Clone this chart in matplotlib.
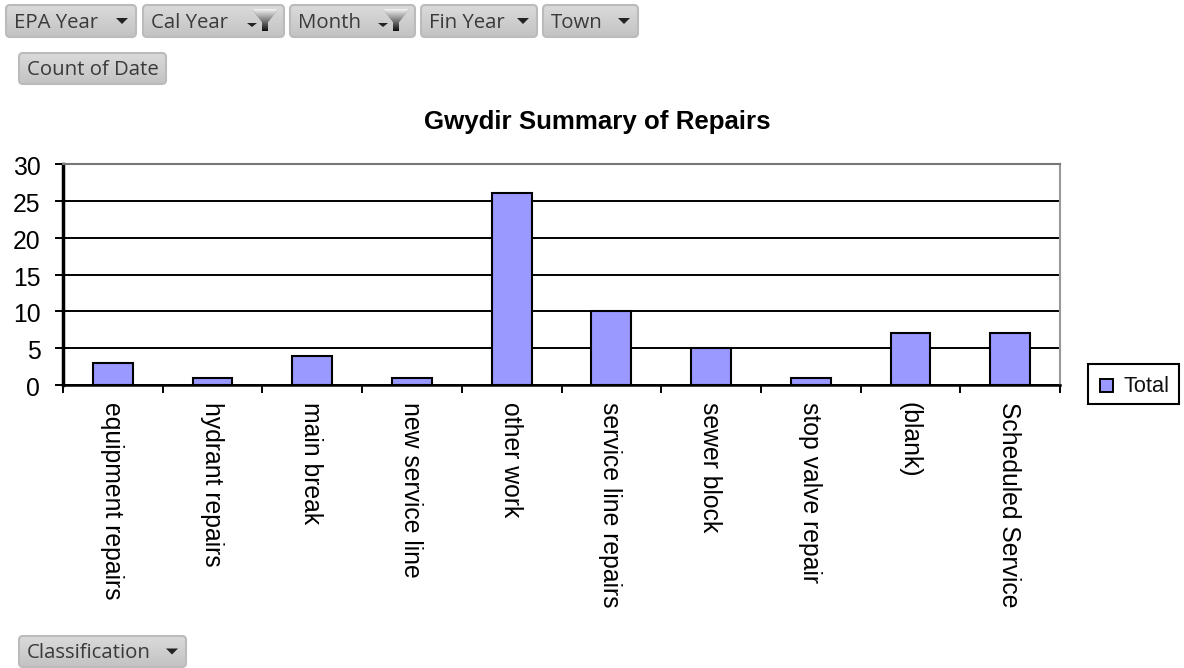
import matplotlib
matplotlib.use('Agg')
import matplotlib.pyplot as plt
import numpy as np
from matplotlib.patches import FancyBboxPatch, Polygon, Rectangle
from matplotlib.transforms import ScaledTranslation

categories = ['equipment repairs', 'hydrant repairs', 'main break', 'new service line',
              'other work', 'service line repairs', 'sewer block', 'stop valve repair',
              '(blank)', 'Scheduled Service']
values = [3, 1, 4, 1, 26, 10, 5, 1, 7, 7]
y_ticks = [0, 5, 10, 15, 20, 25, 30]
title = 'Gwydir Summary of Repairs'
series_name = 'Total'
# label, left, right, top, bottom, kind
buttons = [('EPA Year', 5, 137, 4, 38, 'drop'), ('Cal Year', 142, 285, 4, 38, 'filter'),
           ('Month', 289, 416, 4, 38, 'filter'), ('Fin Year', 420, 538, 4, 38, 'drop'),
           ('Town', 542, 639, 4, 38, 'drop'), ('Count of Date', 18, 167, 52, 85, None),
           ('Classification', 18, 187, 635, 668, 'drop')]

W, H = 1184, 668
plt.rcParams['font.family'] = ['Liberation Sans', 'DejaVu Sans']
fig = plt.figure(figsize=(W / 100, H / 100), dpi=100, facecolor='white')

L, R, T, B = 63, 1060, 164, 385
ax = fig.add_axes([L / W, 1 - B / H, (R - L) / W, (B - T) / H])
xs = range(len(categories))
ax.bar(xs, values, width=0.4, color='#9999FF', edgecolor='black', linewidth=1.5, zorder=3)
ax.set_xlim(-0.5, len(categories) - 0.5)
ax.set_ylim(0, 30)
ax.set_yticks(y_ticks)
ax.set_xticks([x - 0.5 for x in xs] + [len(categories) - 0.5])
ax.set_xticklabels([])
ax.tick_params(axis='y', labelsize=17.8, length=5.8, width=1.4, pad=10.5, colors='black')
ax.tick_params(axis='x', length=5.8, width=1.4)
ax.yaxis.grid(True, color='black', linewidth=1.4, zorder=1)
ax.set_axisbelow(True)
shift = ScaledTranslation(0, -1.5 / 100, fig.dpi_scale_trans)
for lab in ax.get_yticklabels():
    lab.set_transform(lab.get_transform() + shift)
ax.spines['left'].set_linewidth(2.5)
ax.spines['bottom'].set_linewidth(1.8)
ax.spines['top'].set_color('#777777')
ax.spines['top'].set_linewidth(1.5)
ax.spines['right'].set_color('#999999')
ax.spines['right'].set_linewidth(1.5)
for x, c in zip(xs, categories):
    ax.annotate(c, xy=(x, 0), xycoords=('data', 'axes fraction'), xytext=(-0.7, -12.5),
                textcoords='offset points', rotation=-90, ha='center', va='top', fontsize=17.8)

ui = fig.add_axes([0, 0, 1, 1], zorder=5)
ui.axis('off')
ui.patch.set_alpha(0)

ui.text(597, 122, title, ha='center', va='center', fontsize=18.6, fontweight='bold')

# legend
ui.add_patch(Rectangle((1088, 364), 91, 40, fc='white', ec='black', lw=1.5))
ui.add_patch(Rectangle((1100, 379), 13, 13, fc='#9999FF', ec='black', lw=1.4))
ui.text(1123, 386, series_name, ha='left', va='center', fontsize=15.7, color='#111111')

grad = np.linspace(0, 1, 64).reshape(-1, 1)


def fill_gradient(patch, extent, cmap_from, cmap_to):
    ui.add_patch(patch)
    c0, c1 = np.array(cmap_from), np.array(cmap_to)
    img = c0 + (c1 - c0) * grad[..., None]
    im = ui.imshow(img, extent=extent, aspect='auto', interpolation='bilinear', zorder=patch.get_zorder() + 0.1)
    im.set_clip_path(patch)


# pivot field buttons
for label, l, r, t, b, kind in buttons:
    box = FancyBboxPatch((l + 3, t + 3), r - l - 6, b - t - 6,
                         boxstyle='round,pad=2,rounding_size=4',
                         fc='#CECECE', ec='none', zorder=6)
    fill_gradient(box, (l, r, b, t), (0.86, 0.86, 0.86), (0.76, 0.76, 0.76))
    ui.add_patch(FancyBboxPatch((l + 3, t + 3), r - l - 6, b - t - 6,
                                boxstyle='round,pad=2,rounding_size=4',
                                fc='none', ec='#BBBBBB', lw=1.5, zorder=7))
    cy = (t + b) / 2
    ui.text(l + 9, cy + 1.5, label, ha='left', va='center', fontsize=14.7,
            color='#3A3A3A', family=['Open Sans', 'DejaVu Sans'], zorder=8)
    if kind == 'drop':
        ui.add_patch(Polygon([(r - 21, cy - 3), (r - 9, cy - 3), (r - 15, cy + 3)],
                             fc='#222222', ec='none', zorder=8))
    elif kind == 'filter':
        ui.add_patch(Polygon([(r - 38, cy + 2), (r - 28, cy + 2), (r - 33, cy + 6)],
                             fc='#222222', ec='none', zorder=8))
        funnel = Polygon([(r - 33, t + 5), (r - 7, t + 5), (r - 17, cy + 1), (r - 17, t + 27),
                          (r - 23, t + 27), (r - 23, cy + 1)], fc='#777777', ec='none', zorder=8)
        fill_gradient(funnel, (r - 33, r - 7, t + 27, t + 5), (0.95, 0.95, 0.95), (0.05, 0.05, 0.05))

ui.set_xlim(0, W)
ui.set_ylim(H, 0)
fig.savefig('out.png', dpi=100)
